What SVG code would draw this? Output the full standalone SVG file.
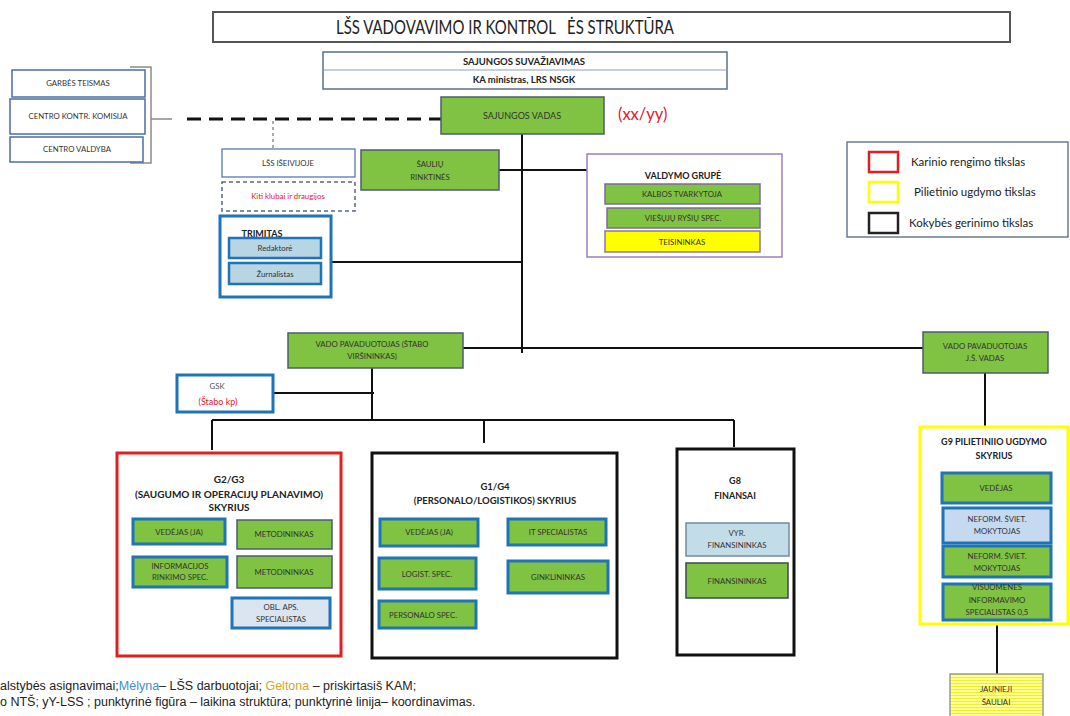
<svg xmlns="http://www.w3.org/2000/svg" width="1070" height="716" viewBox="0 0 1070 716">
<defs>
<style>
.t{font-family:Lato,"Liberation Sans",sans-serif;fill:#333;text-anchor:middle}
.f7{font-size:7.8px}
.f8{font-size:8.5px}
.b{font-weight:bold;fill:#222}
.green{fill:#80c241;stroke:#4d5d6e;stroke-width:1.5}
.gb{fill:#80c241;stroke:#1f73b7;stroke-width:3}
.lb{fill:#dbe4f1;stroke:#1f73b7;stroke-width:3}
.wb{fill:#fff;stroke:#4a6fa5;stroke-width:1.5}
.ln{stroke:#111;stroke-width:2;fill:none}
.leg{font-family:Lato,"Liberation Sans",sans-serif;font-size:11.5px;fill:#222}
.foot{font-family:"Liberation Sans",Arial,sans-serif;font-size:12.5px;fill:#222}
</style>
<pattern id="stripes" width="4" height="3" patternUnits="userSpaceOnUse">
<rect width="4" height="3" fill="#ffff8c"/>
<rect y="2" width="4" height="1" fill="#eded3a"/>
</pattern>
</defs>
<rect width="1070" height="716" fill="#fff"/>

<g id="connectors">
<path d="M130,67 H151 V163 H130" fill="none" stroke="#8a8a8a" stroke-width="1.5"/>
<path d="M151,119 H172" fill="none" stroke="#8a8a8a" stroke-width="1.5"/>
<path d="M187,119 H441" fill="none" stroke="#111" stroke-width="3" stroke-dasharray="14 8"/>
<path d="M273,121 V149" fill="none" stroke="#555" stroke-width="1" stroke-dasharray="3 3"/>
<path class="ln" d="M522,134 V353"/>
<path class="ln" d="M499,170 H587"/>
<path class="ln" d="M331,262 H522"/>
<path class="ln" d="M463,348 H923"/>
<path class="ln" d="M372,368 V420"/>
<path class="ln" d="M273,393 H374"/>
<path class="ln" d="M212,420 H734"/>
<path class="ln" d="M212,420 V450"/>
<path class="ln" d="M484,420 V443"/>
<path class="ln" d="M734,420 V447"/>
<path class="ln" d="M985,373 V427"/>
<path class="ln" d="M997,624 V674"/>
</g>

<g id="title">
<rect x="213" y="12" width="797" height="30" fill="#fff" stroke="#555" stroke-width="2"/>
<text x="505" y="34" class="t" style="font-size:19px;fill:#222" textLength="338" lengthAdjust="spacingAndGlyphs" xml:space="preserve">LŠS VADOVAVIMO IR KONTROL   ĖS STRUKTŪRA</text>
</g>

<g id="suvaziavimas">
<rect x="323" y="52" width="404" height="37" fill="#fff" stroke="#5b6f8d" stroke-width="1.5"/>
<line x1="323" y1="70" x2="727" y2="70" stroke="#8aa0bf" stroke-width="1"/>
<text x="524" y="65" class="t b" style="font-size:9.5px">SAJUNGOS SUVAŽIAVIMAS</text>
<text x="524" y="83" class="t b" style="font-size:9.5px">KA ministras, LRS NSGK</text>
</g>

<g id="vadas">
<rect x="441" y="97" width="163" height="37" class="green"/>
<text x="522" y="119" class="t" style="font-size:9px">SAJUNGOS VADAS</text>
<text x="618" y="120" style="font-family:Lato,'Liberation Sans',sans-serif;font-size:16.5px;fill:#e0202a">(xx/yy)</text>
</g>

<g id="garbes-teismas">
<rect x="12" y="70" width="133" height="27" class="wb"/>
<text x="78" y="86" class="t f7">GARBĖS TEISMAS</text>
</g>
<g id="centro-kontr-komisija">
<rect x="10" y="99" width="135" height="35" class="wb"/>
<text x="78" y="119" class="t f7">CENTRO KONTR. KOMISIJA</text>
</g>
<g id="centro-valdyba">
<rect x="10" y="137" width="133" height="25" class="wb"/>
<text x="77" y="152" class="t f7">CENTRO  VALDYBA</text>
</g>

<g id="lss-iseivijoje">
<rect x="222" y="149" width="133" height="28" fill="#fff" stroke="#4a6fa5" stroke-width="1.2"/>
<text x="288" y="166" class="t f7">LŠS IŠEIVIJOJE</text>
</g>
<g id="kiti-klubai">
<rect x="222" y="182" width="133" height="29" fill="#fff" stroke="#5a6a80" stroke-width="1.5" stroke-dasharray="4 3"/>
<text x="288" y="199" class="t f7" style="fill:#e0202a">Kiti klubai ir draugijos</text>
</g>

<g id="trimitas">
<rect x="220" y="216" width="111" height="81" fill="#fff" stroke="#1f73b7" stroke-width="3"/>
<text x="262" y="237" class="t b" style="font-size:9px">TRIMITAS</text>
<rect x="229" y="238" width="92" height="20" fill="#b7d5e3" stroke="#1f73b7" stroke-width="2.5"/>
<text x="275" y="251" class="t f7">Redaktorė</text>
<rect x="229" y="263" width="92" height="21" fill="#b7d5e3" stroke="#1f73b7" stroke-width="2.5"/>
<text x="275" y="277" class="t f7">Žurnalistas</text>
</g>

<g id="sauliu-rinktines">
<rect x="361" y="150" width="138" height="40" class="green"/>
<text x="430" y="167" class="t f7">ŠAULIŲ</text>
<text x="430" y="180" class="t f7">RINKTINĖS</text>
</g>

<g id="valdymo-grupe">
<rect x="587" y="154" width="195" height="103" fill="#fff" stroke="#9a80c0" stroke-width="1.5"/>
<text x="683" y="179" class="t b" style="font-size:9px">VALDYMO GRUPĖ</text>
<rect x="605" y="184" width="155" height="20" fill="#80c241" stroke="#7d6a9a" stroke-width="1.5"/>
<text x="682" y="197" class="t f7">KALBOS TVARKYTOJA</text>
<rect x="607" y="208" width="153" height="20" fill="#80c241" stroke="#7d6a9a" stroke-width="1.5"/>
<text x="683" y="221" class="t f7">VIEŠŲJŲ RYŠIŲ SPEC.</text>
<rect x="605" y="231" width="155" height="21" fill="#ffff00" stroke="#8a7aa0" stroke-width="1.5"/>
<text x="682" y="245" class="t f7">TEISININKAS</text>
</g>

<g id="legend">
<rect x="847" y="142" width="221" height="95" fill="#fff" stroke="#6b7a90" stroke-width="1.5"/>
<rect x="869" y="152" width="29" height="20" fill="#fff" stroke="#e02020" stroke-width="2.5"/>
<rect x="869" y="182" width="29" height="20" fill="#fff" stroke="#ffff00" stroke-width="2.5"/>
<rect x="869" y="213" width="29" height="20" fill="#fff" stroke="#222" stroke-width="2.5"/>
<text x="911" y="166" class="leg">Karinio rengimo tikslas</text>
<text x="914" y="196" class="leg">Pilietinio ugdymo tikslas</text>
<text x="909" y="227" class="leg">Kokybės gerinimo tikslas</text>
</g>

<g id="vado-pavaduotojas-stabo">
<rect x="288" y="333" width="175" height="35" class="green"/>
<text x="372" y="347" class="t f7">VADO PAVADUOTOJAS (ŠTABO</text>
<text x="372" y="359" class="t f7">VIRŠININKAS)</text>
</g>

<g id="gsk">
<rect x="177" y="375" width="96" height="37" fill="#fff" stroke="#1f73b7" stroke-width="3"/>
<text x="217" y="389" class="t f7" style="fill:#555">GSK</text>
<text x="218" y="405" class="t" style="font-size:9px;fill:#e0202a">(Štabo kp)</text>
</g>

<g id="vado-pavaduotojas-js">
<rect x="923" y="332" width="125" height="41" class="green"/>
<text x="985" y="349" class="t f7">VADO PAVADUOTOJAS</text>
<text x="985" y="361" class="t f7">J.Š. VADAS</text>
</g>

<g id="g2g3">
<rect x="117" y="453" width="224" height="203" fill="#fff" stroke="#e02020" stroke-width="3"/>
<text x="229" y="483" class="t b" style="font-size:10px">G2/G3</text>
<text x="229" y="498" class="t b" style="font-size:10px">(SAUGUMO IR OPERACIJŲ PLANAVIMO)</text>
<text x="229" y="511" class="t b" style="font-size:10px">SKYRIUS</text>
<rect x="133" y="519" width="92" height="25" class="gb"/>
<text x="179" y="535" class="t f7">VEDĖJAS (JA)</text>
<rect x="237" y="520" width="95" height="29" class="green"/>
<text x="284" y="537" class="t f7">METODININKAS</text>
<rect x="133" y="557" width="94" height="30" class="gb"/>
<text x="180" y="569" class="t f7">INFORMACIJOS</text>
<text x="180" y="580" class="t f7">RINKIMO SPEC.</text>
<rect x="237" y="556" width="95" height="32" class="green"/>
<text x="284" y="575" class="t f7">METODININKAS</text>
<rect x="232" y="598" width="98" height="30" class="lb"/>
<text x="281" y="610" class="t f7">OBL. APS.</text>
<text x="281" y="622" class="t f7">SPECIALISTAS</text>
</g>

<g id="g1g4">
<rect x="372" y="453" width="245" height="205" fill="#fff" stroke="#111" stroke-width="3"/>
<text x="495" y="490" class="t b" style="font-size:9.5px">G1/G4</text>
<text x="495" y="504" class="t b" style="font-size:9.5px">(PERSONALO/LOGISTIKOS) SKYRIUS</text>
<rect x="380" y="519" width="98" height="27" class="gb"/>
<text x="429" y="535" class="t f7">VEDĖJAS (JA)</text>
<rect x="508" y="519" width="98" height="26" class="gb"/>
<text x="558" y="535" class="t f7">IT SPECIALISTAS</text>
<rect x="379" y="558" width="97" height="31" class="gb"/>
<text x="427" y="577" class="t f7">LOGIST. SPEC.</text>
<rect x="508" y="561" width="100" height="32" class="gb"/>
<text x="558" y="580" class="t f7">GINKLININKAS</text>
<rect x="379" y="601" width="97" height="27" class="gb"/>
<text x="423" y="618" class="t f7">PERSONALO SPEC.</text>
</g>

<g id="g8">
<rect x="677" y="449" width="117" height="206" fill="#fff" stroke="#111" stroke-width="3"/>
<text x="735" y="484" class="t b" style="font-size:9px">G8</text>
<text x="735" y="499" class="t b" style="font-size:9px">FINANSAI</text>
<rect x="686" y="523" width="103" height="33" fill="#c3dde8" stroke="#6f8aa8" stroke-width="1.5"/>
<text x="737" y="536" class="t f7">VYR.</text>
<text x="737" y="548" class="t f7">FINANSININKAS</text>
<rect x="686" y="563" width="102" height="35" class="green" style="stroke:#3f4a52"/>
<text x="737" y="584" class="t f7">FINANSININKAS</text>
</g>

<g id="g9">
<rect x="920" y="427" width="148" height="197" fill="#fff" stroke="#ffff00" stroke-width="3"/>
<text x="994" y="445" class="t b" style="font-size:9px">G9 PILIETINIIO UGDYMO</text>
<text x="994" y="459" class="t b" style="font-size:9px">SKYRIUS</text>
<rect x="942" y="473" width="109" height="30" class="gb"/>
<text x="996" y="491" class="t f7">VEDĖJAS</text>
<rect x="943" y="508" width="108" height="35" fill="#c5d9f1" stroke="#1f73b7" stroke-width="3"/>
<text x="997" y="522" class="t f7">NEFORM. ŠVIET.</text>
<text x="997" y="534" class="t f7">MOKYTOJAS</text>
<rect x="943" y="546" width="108" height="31" class="gb"/>
<text x="997" y="559" class="t f7">NEFORM. ŠVIET.</text>
<text x="997" y="571" class="t f7">MOKYTOJAS</text>
<rect x="943" y="584" width="108" height="36" class="gb"/>
<text x="997" y="590" class="t f7">VISUOMENES</text>
<text x="997" y="603" class="t f7">INFORMAVIMO</text>
<text x="997" y="615" class="t f7">SPECIALISTAS 0,5</text>
</g>

<g id="jaunieji-sauliai">
<rect x="950" y="674" width="93" height="46" fill="url(#stripes)" stroke="#9a9a9a" stroke-width="1.5"/>
<text x="996" y="692" class="t f7">JAUNIEJI</text>
<text x="996" y="705" class="t f7">ŠAULIAI</text>
</g>

<g id="footnote">
<text x="0" y="690" class="foot">alstybės asignavimai;<tspan fill="#3a8fd0">Mėlyna</tspan>– LŠS darbuotojai; <tspan fill="#d4a52a">Geltona</tspan> – priskirtasiš KAM;</text>
<text x="0" y="706" class="foot">o NTŠ; yY-LSS ; punktyrinė figūra – laikina struktūra; punktyrinė linija– koordinavimas.</text>
</g>
</svg>
